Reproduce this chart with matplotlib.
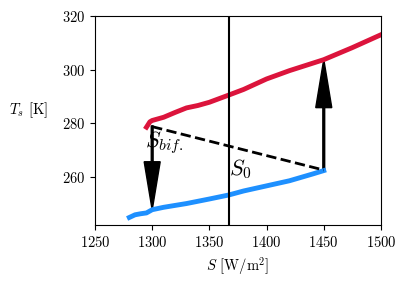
import numpy as np
import matplotlib
matplotlib.use("Agg")
import matplotlib.pyplot as plt

plt.rcParams["font.family"] = "serif"
plt.rcParams["font.serif"] = ["cmr10"]
plt.rcParams["mathtext.fontset"] = "cm"
plt.rcParams["axes.formatter.use_mathtext"] = True
plt.rcParams["font.size"] = 10.5

# warm branch
S_warm = [1295, 1298, 1300, 1310, 1320, 1330, 1340, 1350, 1367, 1380, 1400, 1420, 1450, 1475, 1500]
T_warm = [278.5, 280.5, 281.0, 282.2, 284.0, 285.7, 286.6, 287.8, 290.5, 292.6, 296.5, 299.6, 303.7, 308.2, 313.0]

# cold branch
S_cold = [1280, 1285, 1290, 1295, 1300, 1310, 1330, 1350, 1367, 1380, 1400, 1420, 1440, 1450]
T_cold = [244.8, 245.8, 246.2, 246.5, 247.7, 248.6, 250.0, 251.7, 253.2, 254.7, 256.6, 258.5, 261.0, 262.3]

# unstable branch (dashed)
S_unst = [1300, 1450]
T_unst = [278.7, 262.5]

S0 = 1367

fig = plt.figure(figsize=(4.07, 2.83), dpi=100)
ax = fig.add_axes([0.2334, 0.205, 0.7026, 0.7385])

ax.plot(S_warm, T_warm, color="crimson", lw=3.5)
ax.plot(S_cold, T_cold, color="dodgerblue", lw=3.5)
ax.plot(S_unst, T_unst, "k--", lw=2)
ax.axvline(S0, color="k", lw=1.5)

# jumps
ax.arrow(1300, 279, 0, 247.6 - 279, width=1.6, head_width=14, head_length=18,
         length_includes_head=True, color="k")
ax.arrow(1450, 262.5, 0, 303.8 - 262.5, width=1.6, head_width=14, head_length=18,
         length_includes_head=True, color="k")

ax.text(1294, 271, r"$S_{bif.}$", fontsize=16)
ax.text(1367, 260.5, r"$S_0$", fontsize=16)

ax.set_xlim(1250, 1500)
ax.set_ylim(242, 320)
ax.set_xticks([1250, 1300, 1350, 1400, 1450, 1500])
ax.set_yticks([260, 280, 300, 320])
ax.set_xlabel(r"$S$ [W/m$^2$]")
ax.set_ylabel(r"$T_s$ [K]", rotation=0, labelpad=24)

fig.savefig("out.png", dpi=100)
